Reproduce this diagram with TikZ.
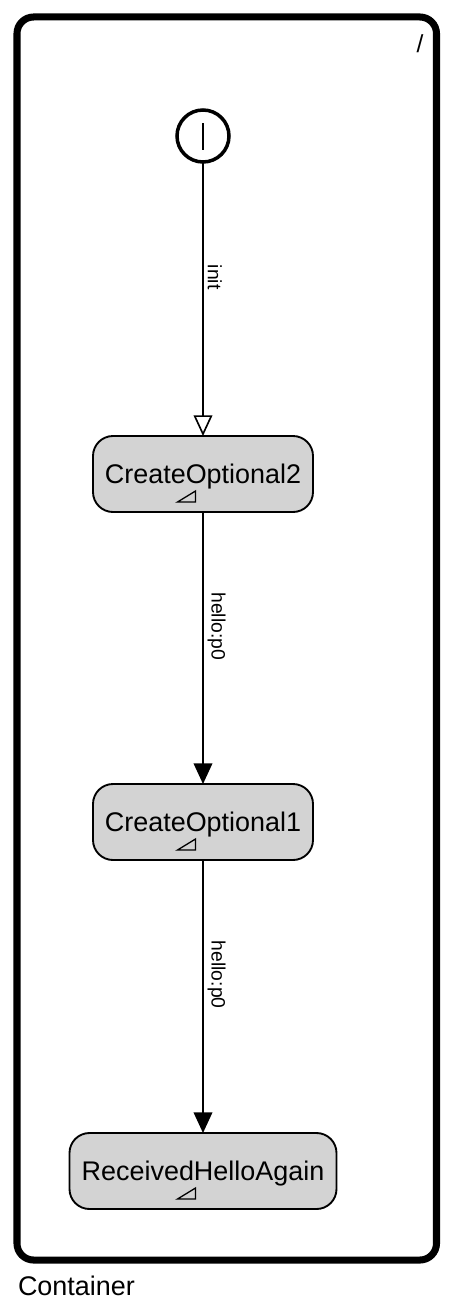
\documentclass[tikz,border=0pt]{standalone}
\usepackage{fontspec}
\setmainfont{Liberation Sans}
\usepackage{tikz}
\usetikzlibrary{arrows.meta}

\definecolor{stategray}{HTML}{D3D3D3}

\newcommand{\stateicon}[1]{%
  \draw[line width=1.1pt, line join=miter] (#1) ++(-25.5,28) -- ++(18,0) -- ++(0,-11) -- cycle;}

\begin{document}
\begin{tikzpicture}[x=0.03cm, y=-0.03cm,
      every node/.append style={inner sep=0pt, outer sep=0pt},
      trans/.style={line width=1.4pt, -{Triangle[length=0.62cm, width=0.56cm]}},
      edgelabel/.style={sloped, above, inner sep=4pt, font=\fontsize{16.5}{18}\selectfont}]
    \tikzstyle{container} = [draw=black, line width=6pt, rounded corners=0.5cm]
    \tikzstyle{state} = [draw=black, line width=1.6pt, fill=stategray, rounded corners=0.6cm,
                         minimum height=2.28cm]
    \tikzstyle{statename} = [anchor=base, font=\fontsize{23}{26}\selectfont]
    \useasboundingbox (0,0) rectangle (454,1306);

    \node[container, minimum width=12.585cm, minimum height=37.29cm] (box) at (226.75,638.5) {};
    \node[anchor=base west, font=\fontsize{23}{26}\selectfont] (boxname) at (18,1295) {Container};
    \node[anchor=base, font=\fontsize{21}{24}\selectfont] (slash) at (420,52) {/};

    \node[draw=black, circle, line width=3pt, minimum size=1.56cm] (start) at (203,136) {};
    \draw[line width=1.8pt] ([yshift=0.39cm]start.center) -- ([yshift=-0.42cm]start.center);

    \node[state, minimum width=6.6cm] (co2) at (203,474) {};
    \node[statename] (co2 name) at (203,483) {CreateOptional2};
    \stateicon{co2.center}

    \node[state, minimum width=6.6cm] (co1) at (203,822) {};
    \node[statename] (co1 name) at (203,831) {CreateOptional1};
    \stateicon{co1.center}

    \node[state, minimum width=8.01cm] (rha) at (203,1171) {};
    \node[statename] (rha name) at (203,1180) {ReceivedHelloAgain};
    \stateicon{rha.center}

    \draw[line width=1.4pt, -{Triangle[open, length=0.62cm, width=0.56cm]}] (start) -- node[edgelabel, pos=0.42] {init} (co2);
    \draw[trans] (co2) -- node[edgelabel, pos=0.42] {hello:p0} (co1);
    \draw[trans] (co1) -- node[edgelabel, pos=0.42] {hello:p0} (rha);
\end{tikzpicture}
\end{document}
